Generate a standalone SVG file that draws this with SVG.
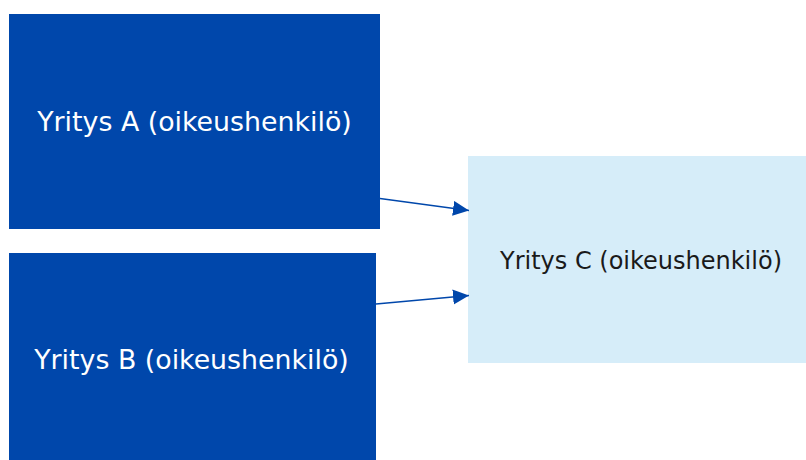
<svg xmlns="http://www.w3.org/2000/svg" width="806" height="460" viewBox="0 0 806 460">
<style>
.dark{fill:#0047AB}
.light{fill:#D6EDF9}
.t{font-family:"DejaVu Sans",Verdana,sans-serif;text-anchor:middle}
.tw{fill:#ffffff;font-size:26.8px}
.tb{fill:#1a1a1a;font-size:24px}
.conn{stroke:#0047AB;stroke-width:1.4;fill:none}
</style>
<defs>
<marker id="ah" markerUnits="userSpaceOnUse" markerWidth="17" markerHeight="16" refX="16" refY="7.5" orient="auto">
<path d="M0,0 L16,7.5 L0,15 Z" fill="#0047AB"/>
</marker>
</defs>
<rect width="806" height="460" fill="#ffffff"/>
<g id="nodeA">
<rect class="dark" x="9" y="14" width="371" height="215"/>
<text class="t tw" x="194.5" y="131">Yritys A (oikeushenkilö)</text>
</g>
<g id="nodeB">
<rect class="dark" x="9" y="253" width="367" height="207"/>
<text class="t tw" x="191.5" y="369">Yritys B (oikeushenkilö)</text>
</g>
<g id="nodeC">
<rect class="light" x="468" y="156" width="338" height="207"/>
<text class="t tb" x="641" y="268.5">Yritys C (oikeushenkilö)</text>
</g>
<g id="connectors">
<line class="conn" x1="380" y1="198.5" x2="469" y2="210.5" marker-end="url(#ah)"/>
<line class="conn" x1="376" y1="304" x2="469" y2="295.5" marker-end="url(#ah)"/>
</g>
</svg>
